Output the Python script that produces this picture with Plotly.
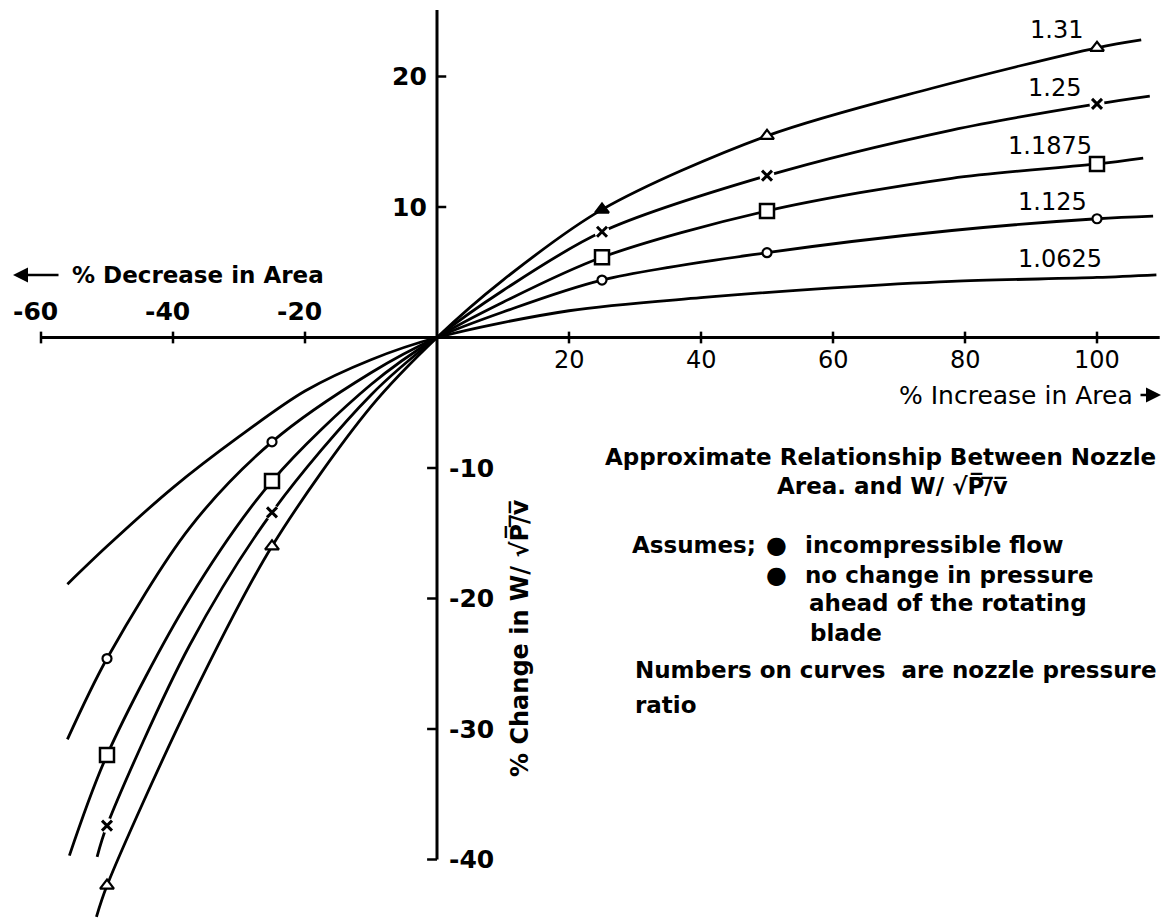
import plotly.graph_objects as go

# ---------------- data ----------------
curve_names = ["1.31", "1.25", "1.1875", "1.125", "1.0625"]

x_131 = [-51.6, -50, -37.5, -25, -10, 0, 10, 25, 50, 75, 100, 106.7]
y_131 = [-44.4, -42.0, -28.0, -16.0, -5.3, 0, 4.4, 9.8, 15.45, 19.1, 22.2, 22.8]

x_125 = [-51.5, -50, -37.5, -25, -10, 0, 10, 25, 50, 78, 100, 108]
y_125 = [-39.8, -37.4, -23.6, -13.4, -4.4, 0, 3.6, 8.1, 12.4, 15.9, 17.9, 18.5]

x_11875 = [-55.7, -50, -37.5, -25, -10, 0, 10, 25, 50, 78, 100, 107]
y_11875 = [-39.7, -32.0, -20.0, -11.0, -3.6, 0, 2.7, 6.15, 9.7, 12.2, 13.3, 13.75]

x_1125 = [-56, -50, -37.5, -25, -10, 0, 10, 25, 50, 78, 100, 108.5]
y_1125 = [-30.8, -24.6, -14.6, -8.0, -2.7, 0, 1.95, 4.4, 6.5, 8.2, 9.1, 9.3]

x_10625 = [-56, -50, -40, -30, -20, -10, 0, 20, 40, 60, 78, 100, 109]
y_10625 = [-18.9, -16.0, -11.5, -7.6, -4.1, -1.7, 0, 2.05, 3.05, 3.8, 4.3, 4.6, 4.8]

# test points (markers)
mark_x = [-50, -25, 25, 50, 100]
mark_131 = [-42.0, -16.0, 9.8, 15.45, 22.2]
mark_125 = [-37.4, -13.4, 8.1, 12.4, 17.9]
mark_11875 = [-32.0, -11.0, 6.15, 9.7, 13.3]
mark_1125 = [-24.6, -8.0, 4.4, 6.5, 9.1]

x_ticks_neg = [-60, -40, -20]
x_ticks_pos = [20, 40, 60, 80, 100]
y_ticks_pos = [10, 20]
y_ticks_neg = [-10, -20, -30, -40]

# ---------------- geometry / style ----------------
W, H = 1163, 920
OX, OY = 437.0, 337.5       # pixel position of origin
SX, SY = 6.6, 13.05         # px per unit
XR = [-OX / SX, (W - OX) / SX]
YR = [-(H - OY) / SY, OY / SY]
FONT = "DejaVu Sans"
INK = "#000000"
LW = 2.8

fig = go.Figure()

curves = [(x_131, y_131), (x_125, y_125), (x_11875, y_11875), (x_1125, y_1125), (x_10625, y_10625)]
for (xs, ys), nm in zip(curves, curve_names):
    fig.add_trace(go.Scatter(x=xs, y=ys, mode="lines", name=nm,
                             line=dict(color=INK, width=LW, shape="spline", smoothing=0.9),
                             hoverinfo="skip", showlegend=False))

# markers
fig.add_trace(go.Scatter(x=mark_x, y=mark_131, mode="markers", showlegend=False,
                         marker=dict(symbol="triangle-up", size=12,
                                     color=["white", "white", INK, "white", "white"],
                                     line=dict(color=INK, width=2.2))))
fig.add_trace(go.Scatter(x=mark_x, y=mark_125, mode="markers", showlegend=False,
                         marker=dict(symbol="circle", size=15, color="white",
                                     line=dict(color="white", width=0))))
fig.add_trace(go.Scatter(x=mark_x, y=mark_125, mode="markers", showlegend=False,
                         marker=dict(symbol="x-thin", size=10,
                                     line=dict(color=INK, width=3))))
fig.add_trace(go.Scatter(x=mark_x, y=mark_11875, mode="markers", showlegend=False,
                         marker=dict(symbol="square", size=14, color="white",
                                     line=dict(color=INK, width=2.5))))
fig.add_trace(go.Scatter(x=mark_x, y=mark_1125, mode="markers", showlegend=False,
                         marker=dict(symbol="circle", size=9, color="white",
                                     line=dict(color=INK, width=2.2))))

shapes = []
line_style = dict(color=INK, width=3)
# main axes
shapes.append(dict(type="line", xref="x", yref="y", x0=-60, x1=109.5, y0=0, y1=0, line=line_style))
shapes.append(dict(type="line", xref="x", yref="y", x0=0, x1=0, y0=-40, y1=25.1, line=line_style))
# x ticks (crossing the axis)
for t in x_ticks_neg + x_ticks_pos:
    shapes.append(dict(type="line", xref="x", yref="y", x0=t, x1=t, y0=-0.45, y1=0.45,
                       line=dict(color=INK, width=2.5)))
# y ticks
for t in y_ticks_pos:
    shapes.append(dict(type="line", xref="x", yref="y", x0=0, x1=1.4, y0=t, y1=t,
                       line=dict(color=INK, width=2.5)))
for t in y_ticks_neg:
    shapes.append(dict(type="line", xref="x", yref="y", x0=-1.5, x1=0, y0=t, y1=t,
                       line=dict(color=INK, width=2.5)))

ann = []
bold_tick = dict(family=FONT, size=25, color=INK, weight="bold")
for t in x_ticks_neg:
    ann.append(dict(x=t - 0.9, y=2.0, xref="x", yref="y", text=f"-{abs(t)}", showarrow=False,
                    font=bold_tick, xanchor="center", yanchor="middle"))
for t in x_ticks_pos:
    ann.append(dict(x=t, y=-1.75, xref="x", yref="y", text=str(t), showarrow=False,
                    font=dict(family=FONT, size=24, color=INK), xanchor="center", yanchor="middle"))
for t in y_ticks_pos:
    ann.append(dict(x=-1.2, y=t, xref="x", yref="y", text=str(t), showarrow=False,
                    font=bold_tick, xanchor="right", yanchor="middle"))
for t in y_ticks_neg:
    ann.append(dict(x=1.5, y=t, xref="x", yref="y", text=f"-{abs(t)}", showarrow=False,
                    font=bold_tick, xanchor="left", yanchor="middle"))

# curve labels
lab_pos = [(93.9, 23.6), (93.6, 19.1), (92.9, 14.7), (93.2, 10.4), (94.4, 6.05)]
for nm, (lx, ly) in zip(curve_names, lab_pos):
    ann.append(dict(x=lx, y=ly, xref="x", yref="y", text=nm, showarrow=False,
                    font=dict(family=FONT, size=24, color=INK), xanchor="center", yanchor="middle"))

def P(px, py):
    return px / W, 1 - py / H

# axis titles
x0, y0 = P(70, 275)
ann.append(dict(x=x0, y=y0, xref="paper", yref="paper", text="% Decrease in Area",
                showarrow=False, font=dict(family=FONT, size=23, color=INK, weight="bold"),
                xanchor="left", yanchor="middle"))
xh, yh = P(13, 275)
ann.append(dict(x=xh, y=yh, ax=47, ay=0, xref="paper", yref="paper", axref="pixel", ayref="pixel",
                text="", showarrow=True, arrowhead=2, arrowsize=1.2, arrowwidth=2.5, arrowcolor=INK))

x1, y1 = P(1135, 395)
ann.append(dict(x=x1, y=y1, xref="paper", yref="paper", text="% Increase in Area",
                showarrow=False, font=dict(family=FONT, size=25, color=INK),
                xanchor="right", yanchor="middle"))
xh, yh = P(1161, 395)
ann.append(dict(x=xh, y=yh, ax=-22, ay=0, xref="paper", yref="paper", axref="pixel", ayref="pixel",
                text="", showarrow=True, arrowhead=2, arrowsize=1.2, arrowwidth=2.5, arrowcolor=INK))

xt, yt = P(519, 638)
ann.append(dict(x=xt, y=yt, xref="paper", yref="paper",
                text="% Change in W/ \u221aP\u0305/\u0305v\u0305",
                showarrow=False, textangle=-90,
                font=dict(family=FONT, size=24, color=INK, weight="bold"),
                xanchor="center", yanchor="middle"))

# notes block
body = dict(family=FONT, size=23, color=INK, weight="bold")
notes = [
    (603, 457, "Approximate Relationship Between Nozzle"),
    (775, 485, "Area. and W/ \u221aP\u0305/\u0305v\u0305"),
    (630, 545, "Assumes;"),
    (803, 545, "incompressible flow"),
    (803, 575, "no change in pressure"),
    (807, 603, "ahead of the rotating"),
    (808, 633, "blade"),
    (633, 670, "Numbers on curves  are nozzle pressure"),
    (633, 705, "ratio"),
]
for px, py, tx in notes:
    xx, yy = P(px, py)
    ann.append(dict(x=xx, y=yy, xref="paper", yref="paper", text=tx, showarrow=False,
                    font=body, xanchor="left", yanchor="middle"))
for py in (545, 575):
    xx, yy = P(776, py)
    ann.append(dict(x=xx, y=yy, xref="paper", yref="paper", text="\u25cf", showarrow=False,
                    font=dict(family=FONT, size=24, color=INK), xanchor="center", yanchor="middle"))

fig.update_layout(
    width=W, height=H, autosize=False,
    margin=dict(l=0, r=0, t=0, b=0, pad=0),
    paper_bgcolor="white", plot_bgcolor="white",
    xaxis=dict(range=XR, visible=False, fixedrange=True),
    yaxis=dict(range=YR, visible=False, fixedrange=True),
    shapes=shapes, annotations=ann, showlegend=False,
)

fig.write_html("out.html", post_script="document.body.style.margin='0px';",
               config={"displayModeBar": False})
